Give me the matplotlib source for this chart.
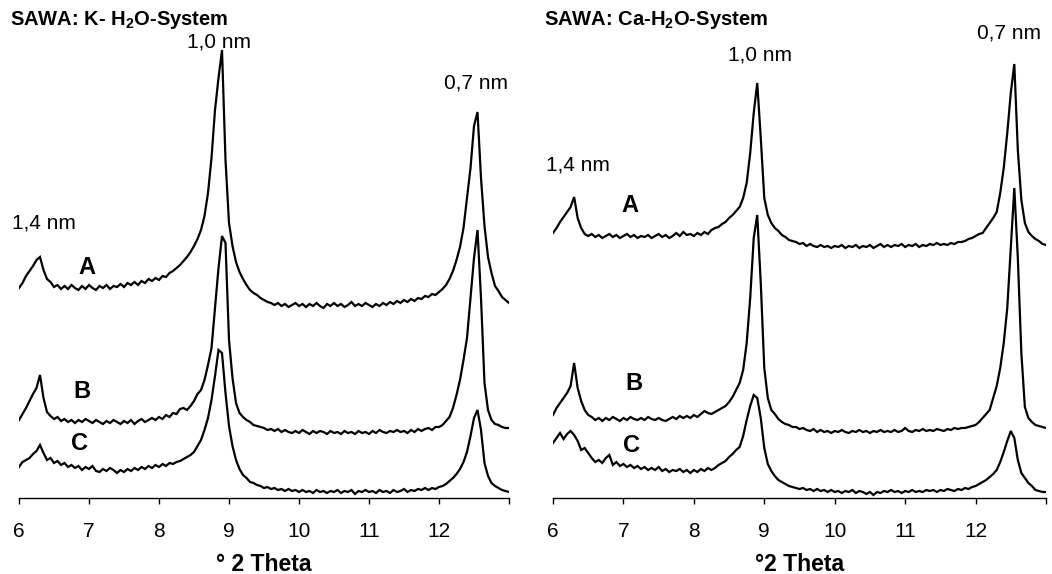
# XRD patterns of SAWA clay, K- and Ca-saturated, three treatments (A, B, C)
# - x axis is degrees 2 theta
# - y axis is intensity (arbitrary, traces stacked, no axis shown)

import numpy as np
import matplotlib
matplotlib.use("Agg")
import matplotlib.pyplot as plt

plt.rcParams["font.family"] = ["Liberation Sans", "DejaVu Sans"]
plt.rcParams["mathtext.fontset"] = "custom"
plt.rcParams["mathtext.rm"] = "Liberation Sans:bold"
plt.rcParams["mathtext.bf"] = "Liberation Sans:bold"

# Measurement grid (degrees 2 theta), same for every trace
two_theta = [
    6.00, 6.05, 6.10, 6.15, 6.20, 6.25, 6.30, 6.35, 6.40, 6.45,
    6.50, 6.55, 6.60, 6.65, 6.70, 6.75, 6.80, 6.85, 6.90, 6.95,
    7.00, 7.05, 7.10, 7.15, 7.20, 7.25, 7.30, 7.35, 7.40, 7.45,
    7.50, 7.55, 7.60, 7.65, 7.70, 7.75, 7.80, 7.85, 7.90, 7.95,
    8.00, 8.05, 8.10, 8.15, 8.20, 8.25, 8.30, 8.35, 8.40, 8.45,
    8.50, 8.55, 8.60, 8.65, 8.70, 8.75, 8.80, 8.85, 8.90, 8.95,
    9.00, 9.05, 9.10, 9.15, 9.20, 9.25, 9.30, 9.35, 9.40, 9.45,
    9.50, 9.55, 9.60, 9.65, 9.70, 9.75, 9.80, 9.85, 9.90, 9.95,
    10.00, 10.05, 10.10, 10.15, 10.20, 10.25, 10.30, 10.35, 10.40, 10.45,
    10.50, 10.55, 10.60, 10.65, 10.70, 10.75, 10.80, 10.85, 10.90, 10.95,
    11.00, 11.05, 11.10, 11.15, 11.20, 11.25, 11.30, 11.35, 11.40, 11.45,
    11.50, 11.55, 11.60, 11.65, 11.70, 11.75, 11.80, 11.85, 11.90, 11.95,
    12.00, 12.05, 12.10, 12.15, 12.20, 12.25, 12.30, 12.35, 12.40, 12.45,
    12.50, 12.55, 12.60, 12.65, 12.70, 12.75, 12.80, 12.85, 12.90, 12.95,
    13.00,
]

# K-H2O system (stacked intensities)
k_a = [
    210, 215, 222, 227, 232, 238, 241, 228, 219, 216,
    211, 213, 209, 212, 209, 213, 210, 208, 212, 209,
    213, 210, 208, 212, 210, 213, 209, 212, 211, 214,
    211, 215, 213, 216, 213, 217, 215, 219, 217, 220,
    218, 222, 221, 225, 227, 230, 233, 237, 241, 246,
    252, 259, 268, 282, 305, 340, 388, 420, 448, 338,
    275, 252, 236, 226, 219, 213, 208, 205, 203, 200,
    198, 196, 195, 193, 195, 192, 194, 191, 193, 195,
    192, 194, 191, 194, 192, 195, 192, 190, 194, 192,
    195, 192, 194, 191, 193, 196, 192, 194, 192, 195,
    193, 191, 194, 192, 195, 193, 196, 194, 197, 195,
    198, 196, 199, 197, 200, 199, 202, 201, 204, 203,
    206, 209, 213, 219, 227, 238, 251, 270, 300, 330,
    372, 386, 320, 272, 241, 225, 212, 207, 201, 198,
    195,
]
k_b = [
    78, 84, 90, 97, 104, 110, 123, 100, 86, 82,
    79, 81, 77, 79, 76, 78, 75, 78, 76, 79,
    77, 75, 78, 76, 74, 77, 75, 78, 76, 74,
    77, 75, 78, 74, 77, 79, 76, 78, 80, 78,
    81, 79, 83, 81, 85, 84, 89, 90, 88, 92,
    97, 104, 108, 118, 133, 150, 190, 230, 262, 255,
    158, 120, 95, 85, 81, 78, 76, 73, 72, 71,
    70, 68, 69, 67, 69, 66, 68, 66, 65, 67,
    65, 68, 66, 64, 67, 65, 67, 66, 64, 67,
    65, 66, 64, 67, 65, 66, 64, 67, 65, 66,
    64, 67, 65, 68, 66, 65, 67, 66, 68, 66,
    67, 65, 68, 66, 69, 67, 69, 70, 68, 71,
    71, 73, 77, 81, 90, 103, 118, 138, 160, 200,
    240, 268, 200, 115, 88, 78, 74, 73, 71, 70,
    70,
]
k_c = [
    31, 36, 38, 40, 44, 47, 53, 45, 38, 40,
    35, 37, 33, 35, 31, 33, 30, 32, 28, 31,
    29, 32, 27, 26, 29, 27, 30, 28, 25, 28,
    26, 29, 27, 30, 28, 31, 29, 32, 30, 33,
    31, 34, 32, 35, 34, 36, 37, 39, 41, 43,
    46, 52, 58, 68, 80, 98, 122, 148, 145, 105,
    72, 52, 38, 29, 23, 20, 16, 15, 13, 12,
    10, 11, 9, 10, 8, 9, 7, 9, 7, 8,
    6, 8, 6, 7, 5, 8, 6, 7, 5, 7,
    6, 8, 5, 7, 6, 8, 4, 7, 6, 8,
    6, 7, 5, 8, 6, 7, 5, 8, 6, 7,
    9, 6, 8, 7, 9, 8, 10, 8, 10, 9,
    11, 12, 14, 17, 20, 24, 29, 36, 46, 62,
    80, 88, 68, 35, 22, 15, 12, 10, 8, 7,
    6,
]

# Ca-H2O system (stacked intensities)
ca_a = [
    265, 270, 276, 281, 286, 291, 301, 280, 270, 264,
    262, 264, 261, 263, 260, 262, 264, 261, 263, 260,
    262, 264, 261, 263, 260, 262, 261, 263, 260, 262,
    264, 261, 263, 260, 262, 265, 262, 266, 263, 264,
    262, 265, 263, 266, 264, 268, 270, 271, 274, 276,
    280, 283, 287, 291, 300, 315, 345, 385, 415, 360,
    300, 283, 275, 270, 267, 263, 261, 258, 257, 256,
    254, 255, 252, 254, 252, 251, 253, 251, 252, 250,
    252, 251, 253, 250, 252, 251, 253, 250, 252, 251,
    253, 250, 252, 254, 251, 253, 251, 253, 252, 254,
    251, 253, 252, 254, 251, 253, 252, 254, 253, 255,
    253, 254, 253, 255, 254, 256, 256, 257, 259, 260,
    262, 264, 265, 270, 275, 280, 286, 305, 330, 365,
    405, 434, 348, 298, 275, 266, 262, 259, 257, 254,
    253,
]
ca_b = [
    83, 90, 95, 100, 105, 112, 135, 110, 97, 88,
    83, 81, 78, 80, 77, 80, 78, 81, 79, 77,
    80, 78, 81, 79, 78, 80, 78, 81, 79, 78,
    80, 78, 77, 79, 81, 79, 82, 80, 82, 80,
    83, 81, 84, 87, 85, 84, 86, 88, 90, 92,
    96, 101, 108, 115, 128, 155, 200, 260, 283, 215,
    130, 100, 88, 84, 79, 76, 74, 73, 71, 71,
    69, 70, 68, 67, 69, 66, 68, 66, 67, 65,
    67, 66, 68, 66, 65, 67, 66, 68, 66, 67,
    65, 67, 66, 68, 66, 67, 66, 68, 66, 67,
    70, 67, 66, 68, 67, 69, 67, 68, 67, 69,
    68, 67, 69, 68, 70, 69, 70, 70, 71, 72,
    73, 76, 80, 84, 88, 100, 112, 130, 155, 190,
    250, 310, 240, 145, 91, 80, 76, 73, 72, 71,
    70,
]
ca_c = [
    55, 60, 65, 59, 64, 67, 63, 57, 48, 50,
    45, 40, 36, 38, 35, 40, 43, 33, 36, 32,
    34, 31, 33, 30, 32, 29, 31, 28, 30, 28,
    31, 27, 29, 26, 28, 27, 29, 26, 28, 25,
    28, 26, 29, 27, 30, 28, 30, 33, 35, 37,
    41, 44, 48, 51, 62, 78, 92, 103, 100, 80,
    50, 34, 27, 22, 18, 16, 14, 12, 11, 10,
    9, 10, 8, 9, 7, 9, 7, 8, 6, 8,
    6, 7, 5, 7, 6, 8, 5, 7, 6, 4,
    6, 3, 6, 5, 7, 6, 8, 6, 7, 5,
    7, 6, 8, 6, 7, 6, 8, 7, 8, 6,
    8, 7, 9, 8, 7, 9, 8, 10, 9, 11,
    12, 14, 16, 18, 21, 24, 28, 36, 46, 57,
    67, 60, 38, 25, 20, 15, 12, 8, 7, 6,
    6,
]

x_ticks = [6, 7, 8, 9, 10, 11, 12, 13]
x_tick_labels = ["6", "7", "8", "9", "10", "11", "12", ""]

panels = [
    {
        "title": r"SAWA: K- H$_2$O-System",
        "xlabel": "° 2 Theta",
        "traces": [k_a, k_b, k_c],
        # label, x, y, bold
        "notes": [
            ("1,0 nm", 8.86, 456, False),
            ("0,7 nm", 12.53, 415, False),
            ("1,4 nm", 6.36, 275, False),
            ("A", 6.97, 231, True),
            ("B", 6.90, 106, True),
            ("C", 6.87, 55, True),
        ],
    },
    {
        "title": r"SAWA: Ca-H$_2$O-System",
        "xlabel": "°2 Theta",
        "traces": [ca_a, ca_b, ca_c],
        "notes": [
            ("1,0 nm", 8.94, 443, False),
            ("0,7 nm", 12.48, 465, False),
            ("1,4 nm", 6.35, 333, False),
            ("A", 7.09, 293, True),
            ("B", 7.15, 115, True),
            ("C", 7.12, 53, True),
        ],
    },
]

W, H = 1052, 574
fig = plt.figure(figsize=(W / 100, H / 100), dpi=100)

# axes boxes in pixels: left, right edges of the x axis line
boxes = [(19, 509), (553, 1046)]
axis_y = 498
top_y = 38

for panel, (x0, x1) in zip(panels, boxes):
    ax = fig.add_axes(
        [x0 / W, (H - axis_y) / H, (x1 - x0) / W, (axis_y - top_y) / H]
    )
    for trace in panel["traces"]:
        ax.plot(two_theta, trace, color="black", lw=1.6, solid_joinstyle="miter")

    ax.set_xlim(6, 13)
    ax.set_ylim(0, axis_y - top_y)
    for side in ["left", "right", "top"]:
        ax.spines[side].set_visible(False)
    ax.spines["bottom"].set_linewidth(1.0)
    ax.set_yticks([])
    ax.set_xticks(x_ticks, labels=x_tick_labels)
    ax.tick_params(axis="x", direction="out", length=4, width=1, labelsize=15, pad=13)

    for text, tx, ty, bold in panel["notes"]:
        ax.text(
            tx, ty, text,
            ha="center", va="center",
            fontsize=17 if bold else 15,
            fontweight="bold" if bold else "normal",
            clip_on=False,
        )

    ax.set_xlabel(panel["xlabel"], fontsize=16.5, fontweight="bold", labelpad=9)
    fig.text((x0 - 9) / W, 1 - 20 / H, panel["title"],
             fontsize=14.5, fontweight="bold", ha="left", va="center")

fig.savefig("out.png", dpi=100)
